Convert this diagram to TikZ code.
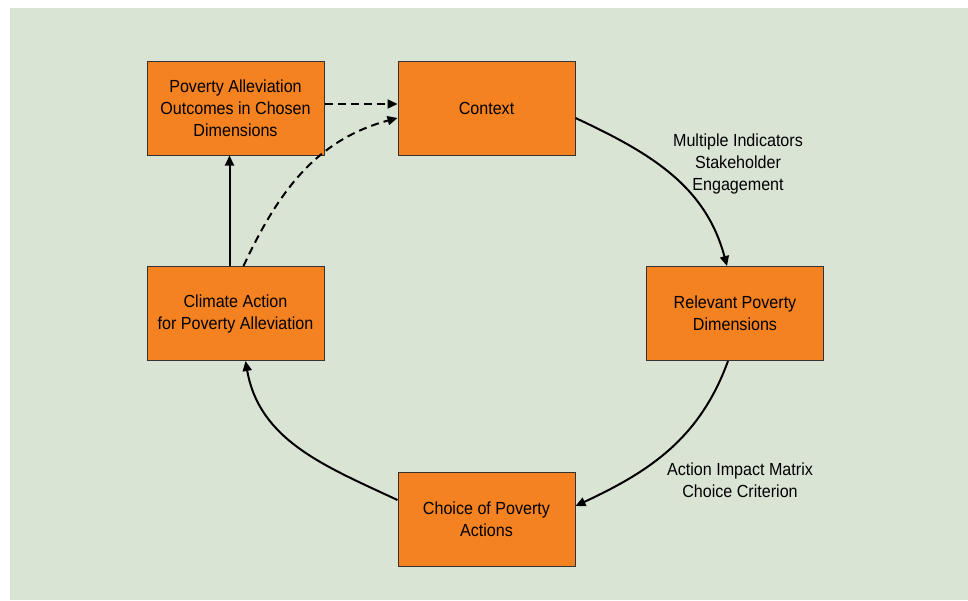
\documentclass[tikz,border=0pt]{standalone}
\usepackage{fontspec}
\setmainfont[FakeStretch=0.92]{Liberation Sans}
\usetikzlibrary{arrows.meta}
\definecolor{bggreen}{RGB}{218,228,213}
\definecolor{boxorange}{RGB}{245,130,32}
\tikzset{
  box/.style={draw=black!80,line width=1pt,fill=boxorange,minimum width=177pt,minimum height=94pt,inner sep=0pt,align=center,font=\fontsize{17.5}{22}\selectfont},
  lbl/.style={align=center,font=\fontsize{17.5}{22}\selectfont},
  link/.style={line width=2pt,-{Triangle[length=10pt,width=9pt]}},
  dashlink/.style={link,dash pattern=on 8pt off 5pt}
}
\begin{document}
\begin{tikzpicture}[x=1pt,y=-1pt]
    \useasboundingbox (0,0) rectangle (968,600);
    \fill[bggreen] (10,8) rectangle (968,600);
    \coordinate (O) at (235.5,108);
    \coordinate (C) at (486.5,108);
    \coordinate (R) at (735,313.5);
    \coordinate (P) at (486.5,519);
    \coordinate (A) at (235.5,313.5);
    \node[box] (outcomes) at (O) {Poverty Alleviation\\Outcomes in Chosen\\Dimensions};
    \node[box] (context) at (C) {Context};
    \node[box] (relevant) at (R) {Relevant Poverty\\Dimensions};
    \node[box] (choice) at (P) {Choice of Poverty\\Actions};
    \node[box] (climate) at (A) {Climate Action\\for Poverty Alleviation};
    \draw[link] ([yshift=-10pt]context.east) to[out=-25,in=105] ([xshift=-8pt]relevant.north);
    \draw[link] ([xshift=-7pt]relevant.south) to[out=-110,in=25] ([yshift=13pt]choice.east);
    \draw[link] ([yshift=19pt]choice.west) to[out=155,in=-80] ([xshift=10pt]climate.south);
    \draw[link] ([xshift=-6pt]climate.north) -- ([xshift=-6pt]outcomes.south);
    \draw[dashlink] ([yshift=4pt]outcomes.east) -- ([yshift=4pt]context.west);
    \draw[dashlink] ([xshift=8pt]climate.north) to[out=65,in=195] ([yshift=-10pt]context.west);
    \node[lbl] (indic) at (738,164) {Multiple Indicators\\Stakeholder\\Engagement};
    \node[lbl] (matrix) at (740,480) {Action Impact Matrix\\Choice Criterion};
\end{tikzpicture}
\end{document}
